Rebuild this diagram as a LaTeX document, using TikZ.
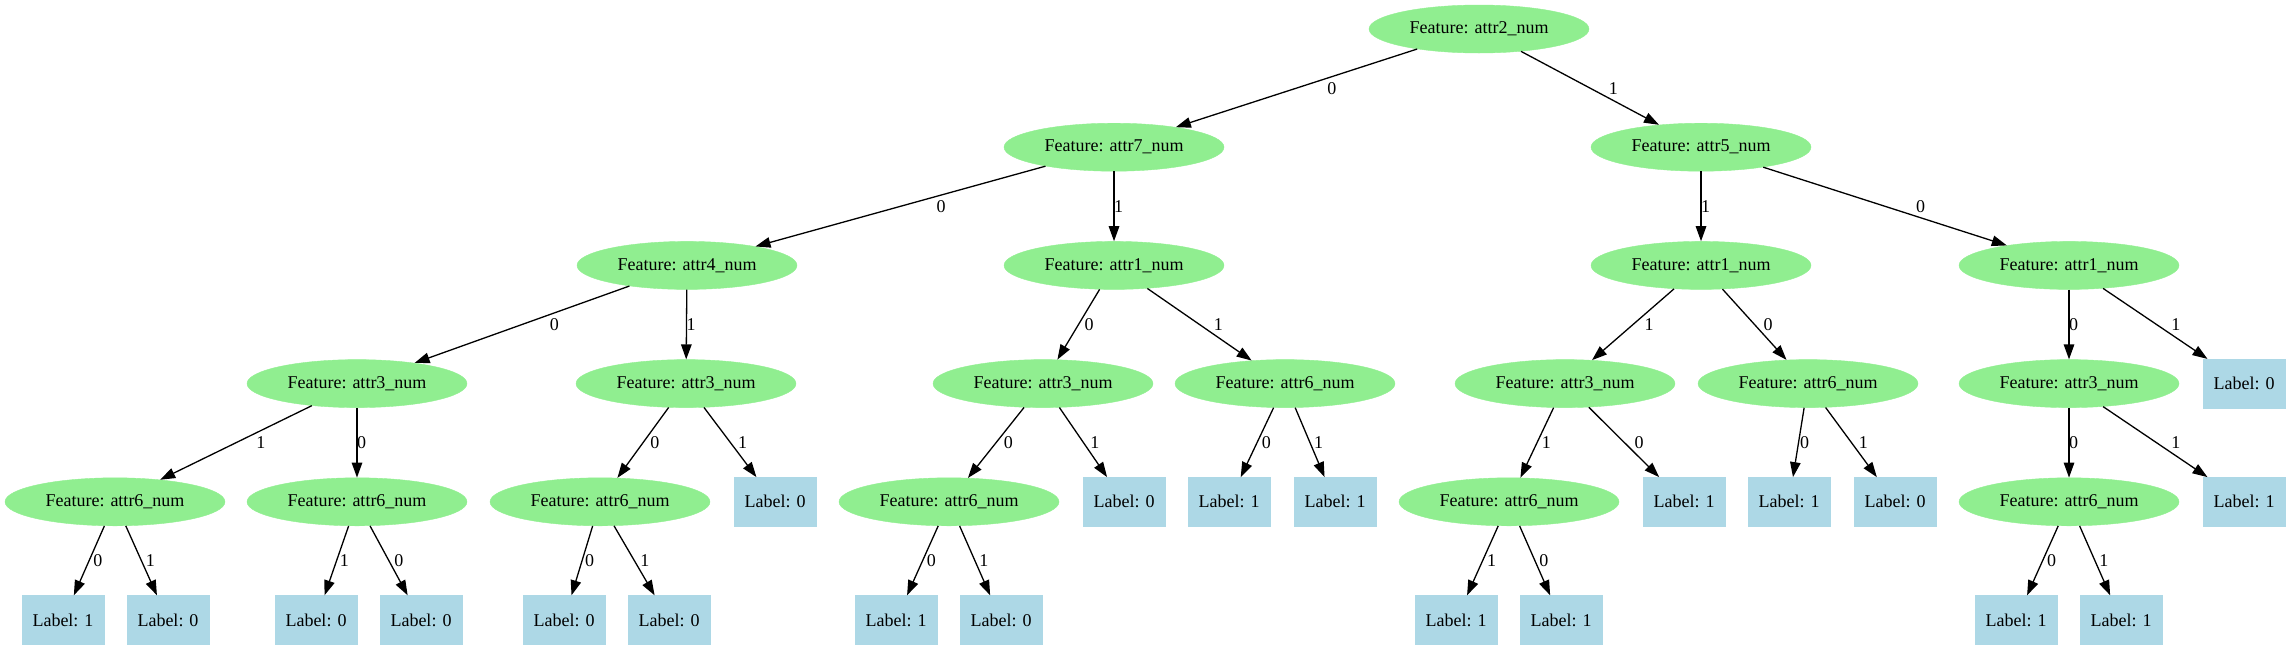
\documentclass[tikz,border=0pt]{standalone}
\usepackage{fontspec}
\setmainfont{Liberation Serif}
\usetikzlibrary{shapes.geometric,arrows.meta,calc}
\definecolor{lgreen}{HTML}{90EE90}
\definecolor{lblue}{HTML}{ADD8E6}
\tikzset{
  feat/.style={ellipse, fill=lgreen, draw=lgreen, inner sep=0pt, minimum width=220pt, minimum height=48pt, font=\fontsize{18pt}{21pt}\selectfont},
  leaf/.style={rectangle, fill=lblue, draw=lblue, inner sep=0pt, minimum width=82pt, minimum height=49pt, font=\fontsize{18pt}{21pt}\selectfont},
  edge/.style={line width=1.3pt, -{Triangle[length=15pt,width=10.5pt]}},
  elbl/.style={inner sep=0pt, font=\fontsize{18pt}{21pt}\selectfont}
}
\newcommand\elab[3]{\path let \p1=(#1.center), \p2=(#2.center), \n1={abs(\y2-\y1)}, \n2={abs(\x2-\x1)} in node[elbl] at ({(\x1+\x2)/2+(10*\n2/\n1)*1pt+4.5pt},{(\y1+\y2)/2}) {#3};}
\newcommand\tedge[3]{\draw[edge] (#1) -- (#2); \elab{#1}{#2}{#3}}
\begin{document}
\begin{tikzpicture}[x=1pt,y=-1pt]
\useasboundingbox (0,0) rectangle (2290,649);
% level 0
\node[feat] (n0) at (1479,29) {Feature: attr2\_num};
% level 1
\node[feat] (n1) at (1114,147.2) {Feature: attr7\_num};
\node[feat] (n2) at (1701,147.2) {Feature: attr5\_num};
% level 2
\node[feat] (n3) at (687,265.4) {Feature: attr4\_num};
\node[feat] (n4) at (1114,265.4) {Feature: attr1\_num};
\node[feat] (n5) at (1701,265.4) {Feature: attr1\_num};
\node[feat] (n6) at (2069,265.4) {Feature: attr1\_num};
% level 3
\node[feat] (n7) at (357,383.6) {Feature: attr3\_num};
\node[feat] (n8) at (686,383.6) {Feature: attr3\_num};
\node[feat] (n9) at (1043,383.6) {Feature: attr3\_num};
\node[feat] (n10) at (1285,383.6) {Feature: attr6\_num};
\node[feat] (n11) at (1565,383.6) {Feature: attr3\_num};
\node[feat] (n12) at (1808,383.6) {Feature: attr6\_num};
\node[feat] (n13) at (2069,383.6) {Feature: attr3\_num};
\node[leaf] (n14) at (2244,383.6) {Label: 0};
% level 4
\node[feat] (n15) at (115,501.8) {Feature: attr6\_num};
\node[feat] (n16) at (357,501.8) {Feature: attr6\_num};
\node[feat] (n17) at (600,501.8) {Feature: attr6\_num};
\node[leaf] (n18) at (775,501.8) {Label: 0};
\node[feat] (n19) at (949,501.8) {Feature: attr6\_num};
\node[leaf] (n20) at (1124,501.8) {Label: 0};
\node[leaf] (n21) at (1229,501.8) {Label: 1};
\node[leaf] (n22) at (1335,501.8) {Label: 1};
\node[feat] (n23) at (1509,501.8) {Feature: attr6\_num};
\node[leaf] (n24) at (1684,501.8) {Label: 1};
\node[leaf] (n25) at (1789,501.8) {Label: 1};
\node[leaf] (n26) at (1895,501.8) {Label: 0};
\node[feat] (n27) at (2069,501.8) {Feature: attr6\_num};
\node[leaf] (n28) at (2244,501.8) {Label: 1};
% level 5
\node[leaf] (n29) at (63,620) {Label: 1};
\node[leaf] (n30) at (168,620) {Label: 0};
\node[leaf] (n31) at (316,620) {Label: 0};
\node[leaf] (n32) at (421,620) {Label: 0};
\node[leaf] (n33) at (564,620) {Label: 0};
\node[leaf] (n34) at (669,620) {Label: 0};
\node[leaf] (n35) at (896,620) {Label: 1};
\node[leaf] (n36) at (1001,620) {Label: 0};
\node[leaf] (n37) at (1456,620) {Label: 1};
\node[leaf] (n38) at (1561,620) {Label: 1};
\node[leaf] (n39) at (2016,620) {Label: 1};
\node[leaf] (n40) at (2121,620) {Label: 1};
% edges
\tedge{n0}{n1}{0}
\tedge{n0}{n2}{1}
\tedge{n1}{n3}{0}
\tedge{n1}{n4}{1}
\tedge{n2}{n5}{1}
\tedge{n2}{n6}{0}
\tedge{n3}{n7}{0}
\tedge{n3}{n8}{1}
\tedge{n4}{n9}{0}
\tedge{n4}{n10}{1}
\tedge{n5}{n11}{1}
\tedge{n5}{n12}{0}
\tedge{n6}{n13}{0}
\tedge{n6}{n14}{1}
\tedge{n7}{n15}{1}
\tedge{n7}{n16}{0}
\tedge{n8}{n17}{0}
\tedge{n8}{n18}{1}
\tedge{n9}{n19}{0}
\tedge{n9}{n20}{1}
\tedge{n10}{n21}{0}
\tedge{n10}{n22}{1}
\tedge{n11}{n23}{1}
\tedge{n11}{n24}{0}
\tedge{n12}{n25}{0}
\tedge{n12}{n26}{1}
\tedge{n13}{n27}{0}
\tedge{n13}{n28}{1}
\tedge{n15}{n29}{0}
\tedge{n15}{n30}{1}
\tedge{n16}{n31}{1}
\tedge{n16}{n32}{0}
\tedge{n17}{n33}{0}
\tedge{n17}{n34}{1}
\tedge{n19}{n35}{0}
\tedge{n19}{n36}{1}
\tedge{n23}{n37}{1}
\tedge{n23}{n38}{0}
\tedge{n27}{n39}{0}
\tedge{n27}{n40}{1}
\end{tikzpicture}
\end{document}
